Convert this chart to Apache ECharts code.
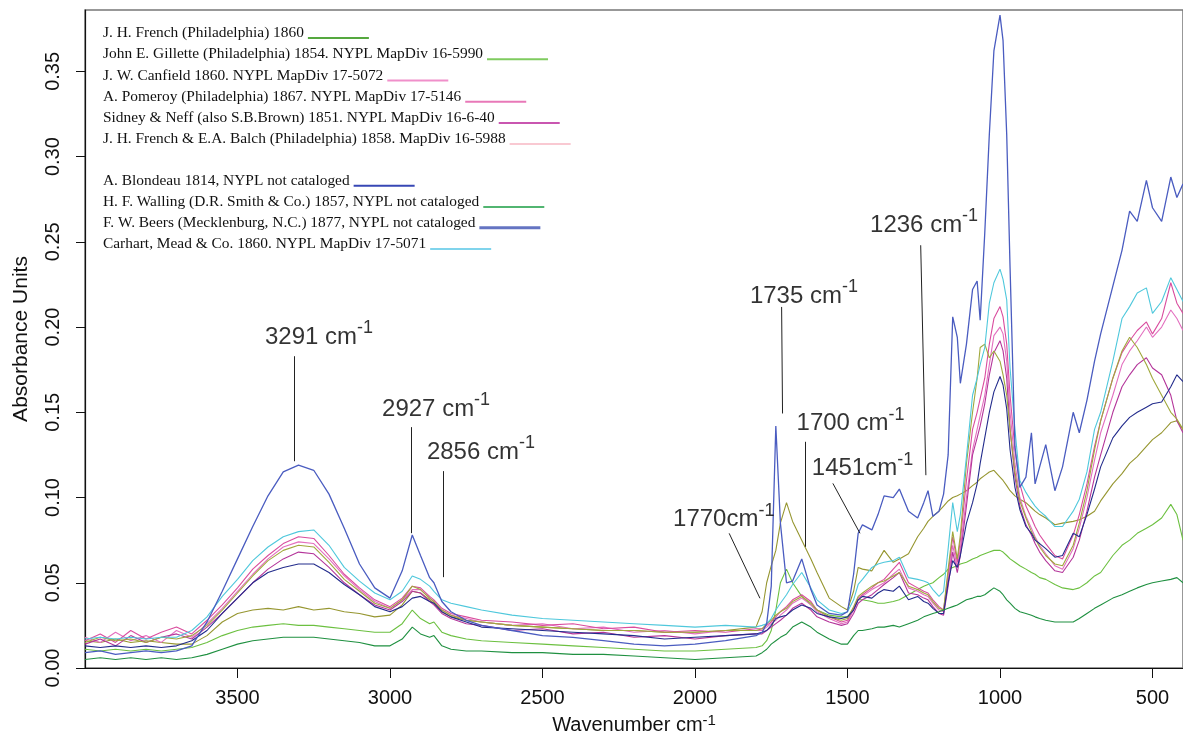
<!DOCTYPE html>
<html><head><meta charset="utf-8">
<script src="https://cdn.jsdelivr.net/npm/echarts@6/dist/echarts.min.js"></script>
<style>html,body{margin:0;padding:0;background:#fff}#c{width:1183px;height:746px}</style>
</head><body><div id="c"></div>
<script>
// ---------- DATA ----------
const WN = [
 4000,3950,3900,3850,3800,3750,3700,3650,3600,
 3550,3500,3450,3400,3350,3300,3250,3200,3150,3100,3050,3000,2960,2927,2900,2870,2856,2830,2800,
 2750,2700,2600,2500,2400,2300,2200,2100,2000,1900,1800,
 1780,1765,1750,1735,1720,1700,1680,1650,1620,1600,1560,1520,1500,
 1480,1465,1451,1420,1400,1380,1350,1330,1300,1270,1250,1236,1220,1200,1185,1170,1155,1140,1130,
 1110,1090,1075,1065,1050,1035,1020,1000,990,978,967,951,
 935,915,897,885,870,850,820,795,760,740,715,690,670,630,600,575,550,520,500,470,440,420,400
];
const french1860 = [
 .016,.015,.017,.015,.016,.015,.014,.014,.019,
 .027,.032,.034,.035,.034,.036,.034,.035,.033,.032,.030,.031,.037,.045,.044,.040,.038,.033,.030,
 .028,.027,.025,.024,.023,.022,.022,.021,.021,.022,.024,
 .033,.050,.060,.069,.085,.097,.086,.075,.064,.056,.041,.036,.034,
 .045,.059,.058,.057,.063,.069,.062,.064,.067,.077,.082,.086,.089,.092,.095,.098,.100,.101,.102,
 .104,.107,.109,.111,.113,.115,.116,.112,.110,.107,.104,.101,
 .099,.097,.094,.092,.090,.088,.084,.085,.086,.087,.089,.092,.098,.108,.114,.120,.124,.130,.134,.138,.144,.145,.140
];
const gillette = [
 .011,.010,.011,.010,.011,.010,.011,.012,.015,
 .019,.022,.024,.025,.026,.025,.025,.024,.023,.022,.021,.021,.026,.034,.029,.026,.027,.021,.019,
 .017,.016,.015,.014,.013,.012,.011,.010,.010,.011,.012,
 .013,.016,.022,.034,.050,.058,.050,.042,.037,.034,.031,.030,.030,
 .035,.040,.040,.039,.038,.038,.039,.040,.043,.046,.048,.049,.050,.053,.055,.058,.059,.060,.061,
 .062,.064,.065,.066,.067,.068,.069,.069,.068,.066,.064,.062,
 .060,.058,.056,.055,.053,.052,.049,.047,.046,.047,.050,.054,.056,.066,.072,.075,.079,.082,.084,.088,.096,.090,.075
];
const canfield = [
 .018,.015,.021,.016,.019,.015,.022,.018,.026,
 .035,.045,.055,.064,.071,.074,.073,.064,.054,.046,.039,.035,.040,.046,.046,.041,.039,.034,.031,
 .029,.027,.025,.026,.023,.024,.021,.022,.020,.022,.022,
 .022,.024,.026,.028,.031,.034,.038,.041,.037,.033,.029,.026,.027,
 .034,.040,.042,.046,.048,.050,.055,.058,.047,.045,.043,.042,.038,.034,.033,.052,.072,.059,.070,
 .100,.128,.140,.148,.160,.178,.195,.200,.196,.180,.150,.120,
 .100,.089,.082,.077,.072,.067,.060,.058,.070,.082,.100,.122,.138,.160,.178,.186,.192,.200,.194,.200,.210,.205,.198
];
const pomeroy = [
 .016,.020,.015,.022,.017,.021,.024,.020,.028,
 .037,.047,.058,.066,.073,.077,.076,.066,.055,.047,.040,.036,.041,.048,.047,.042,.040,.035,.032,
 .030,.028,.027,.025,.026,.023,.024,.021,.022,.021,.023,
 .023,.025,.027,.030,.033,.036,.040,.043,.039,.034,.030,.027,.028,
 .035,.041,.043,.047,.050,.052,.058,.062,.050,.047,.045,.044,.040,.036,.034,.055,.077,.062,.075,
 .110,.140,.150,.158,.170,.190,.205,.212,.206,.190,.160,.128,
 .108,.095,.088,.083,.078,.073,.066,.064,.078,.090,.108,.130,.145,.170,.185,.192,.198,.203,.196,.205,.226,.214,.208
];
const sidneyNeff = [
 .014,.017,.013,.019,.015,.018,.020,.017,.024,
 .032,.041,.050,.058,.064,.068,.067,.059,.050,.043,.037,.034,.039,.045,.044,.039,.037,.032,.029,
 .026,.025,.022,.023,.020,.021,.018,.019,.017,.019,.020,
 .020,.022,.024,.026,.028,.031,.035,.038,.034,.030,.027,.025,.026,
 .032,.038,.040,.043,.046,.049,.053,.056,.044,.043,.041,.040,.036,.032,.031,.048,.068,.056,.066,
 .095,.125,.135,.142,.155,.172,.185,.192,.186,.170,.140,.112,
 .095,.084,.078,.073,.068,.063,.057,.056,.065,.075,.092,.112,.125,.150,.165,.172,.178,.182,.176,.172,.160,.145,.138
];
const frenchBalch = [
 .015,.018,.016,.017,.015,.018,.017,.019,.025,
 .034,.044,.054,.063,.069,.072,.071,.062,.052,.045,.038,.035,.040,.048,.046,.041,.039,.034,.031,
 .028,.027,.025,.024,.023,.022,.022,.021,.021,.022,.022,
 .023,.026,.028,.031,.033,.035,.039,.042,.038,.034,.030,.028,.029,
 .036,.042,.044,.048,.050,.051,.054,.056,.048,.046,.044,.043,.039,.035,.034,.058,.080,.064,.078,
 .120,.150,.170,.188,.190,.182,.186,.180,.172,.160,.140,.115,
 .098,.088,.080,.076,.071,.066,.061,.060,.072,.085,.104,.128,.145,.170,.186,.194,.188,.178,.170,.160,.150,.146,.140
];
const blondeau = [
 .013,.012,.013,.012,.013,.012,.013,.016,.022,
 .032,.041,.050,.056,.059,.061,.061,.056,.049,.043,.036,.033,.036,.041,.042,.039,.038,.033,.030,
 .027,.024,.023,.022,.021,.020,.019,.017,.018,.019,.020,
 .021,.022,.025,.029,.030,.031,.034,.037,.035,.032,.030,.029,.030,
 .034,.040,.042,.041,.044,.046,.045,.048,.040,.042,.039,.038,.035,.032,.032,.050,.063,.059,.066,
 .085,.097,.108,.120,.135,.150,.162,.171,.166,.152,.128,.106,
 .093,.083,.079,.075,.073,.070,.065,.066,.079,.077,.090,.105,.118,.135,.142,.147,.150,.153,.155,.156,.165,.172,.168
];
const walling = [
 .005,.006,.005,.006,.005,.006,.005,.006,.008,
 .011,.014,.016,.017,.018,.018,.018,.017,.016,.015,.013,.013,.017,.024,.020,.018,.019,.013,.011,
 .010,.010,.009,.009,.008,.008,.007,.006,.005,.006,.007,
 .009,.011,.014,.016,.018,.020,.024,.027,.024,.021,.017,.014,.014,
 .019,.022,.022,.023,.024,.024,.025,.024,.026,.028,.030,.031,.032,.033,.034,.035,.036,.037,.038,
 .040,.041,.042,.042,.043,.045,.047,.045,.043,.040,.038,.035,
 .033,.032,.031,.030,.029,.028,.027,.027,.027,.029,.032,.035,.037,.041,.043,.045,.047,.049,.050,.051,.052,.053,.050
];
const beers = [
 .009,.010,.008,.009,.010,.009,.010,.013,.027,
 .045,.064,.083,.101,.115,.119,.116,.102,.082,.061,.047,.041,.057,.078,.066,.053,.050,.039,.033,
 .028,.025,.022,.019,.018,.016,.014,.013,.014,.016,.019,
 .021,.026,.048,.142,.085,.050,.051,.064,.046,.037,.032,.031,.033,
 .055,.079,.084,.081,.090,.101,.100,.105,.092,.088,.097,.104,.089,.092,.102,.125,.206,.194,.167,
 .190,.222,.227,.204,.255,.313,.362,.383,.368,.313,.235,.130,
 .106,.112,.138,.108,.118,.131,.104,.118,.150,.138,.157,.180,.196,.224,.245,.268,.262,.286,.270,.262,.288,.276,.284
];
const carhart = [
 .017,.018,.017,.018,.017,.018,.018,.022,.030,
 .042,.052,.063,.071,.077,.080,.081,.072,.059,.051,.044,.040,.045,.054,.052,.048,.045,.040,.038,
 .036,.034,.031,.029,.028,.027,.026,.025,.024,.025,.024,
 .025,.026,.029,.034,.038,.043,.049,.056,.047,.040,.034,.032,.033,
 .040,.049,.052,.059,.061,.062,.063,.065,.053,.052,.051,.050,.046,.042,.045,.070,.097,.080,.090,
 .124,.160,.170,.178,.188,.214,.226,.234,.228,.216,.176,.140,
 .110,.103,.098,.095,.092,.089,.083,.083,.092,.099,.115,.140,.150,.180,.205,.212,.220,.223,.208,.215,.229,.222,.215
];

const SERIES_NAMES = [
 'J. H. French (Philadelphia) 1860',
 'John E. Gillette (Philadelphia) 1854. NYPL MapDiv 16-5990',
 'J. W. Canfield 1860. NYPL MapDiv 17-5072',
 'A. Pomeroy (Philadelphia) 1867. NYPL MapDiv 17-5146',
 'Sidney & Neff (also S.B.Brown) 1851. NYPL MapDiv 16-6-40',
 'J. H. French & E.A. Balch (Philadelphia) 1858. MapDiv 16-5988',
 'A. Blondeau 1814, NYPL not cataloged',
 'H. F. Walling (D.R. Smith & Co.) 1857, NYPL not cataloged',
 'F. W. Beers (Mecklenburg, N.C.) 1877, NYPL not cataloged',
 'Carhart, Mead & Co. 1860. NYPL MapDiv 17-5071'
];
const SERIES_VALUES = [french1860, gillette, canfield, pomeroy, sidneyNeff, frenchBalch, blondeau, walling, beers, carhart];

const X_TICKS = [500, 1000, 1500, 2000, 2500, 3000, 3500];
const Y_TICKS = [0, 0.05, 0.10, 0.15, 0.20, 0.25, 0.30, 0.35];

const ANNOT_LABELS = ['3291 cm', '2927 cm', '2856 cm', '1735 cm', '1700 cm', '1451cm', '1770cm', '1236 cm'];
const ANNOT_TEXT_AT = [[3410,0.1958],[3026,0.1537],[2879,0.1285],[1820,0.2197],[1667,0.1451],[1617,0.1187],[2072,0.0888],[1426,0.2617]];
const ANNOT_LINE_FROM = [[3315,0.1829],[2931,0.1413],[2826,0.1155],[1716,0.2118],[1637,0.1327],[1548,0.1083],[1888,0.0790],[1260,0.2480]];
const ANNOT_LINE_TO = [[3315,0.1213],[2931,0.0791],[2826,0.0533],[1713,0.1493],[1637,0.0711],[1459,0.0790],[1787,0.0409],[1243,0.1131]];

// ---------- STYLE ----------
const LINE_COLORS = ['#969630','#6cc040','#e36fbf','#d94c9e','#b4359a','#a0a83c','#232c8c','#1f9040','#4a5cc0','#4fc8dc'];
const LEGEND_COLORS = ['#55a83f','#7fcb5f','#f08fca','#e878b8','#c956b0','#f9c9d2','#3747b5','#52b571','#6474c2','#80d4ec'];

SERIES_VALUES.forEach((a, i) => { if (a.length !== WN.length) throw new Error('len mismatch ' + SERIES_NAMES[i] + ' ' + a.length + ' vs ' + WN.length); });

const chart = echarts.init(document.getElementById('c'), null, {renderer: 'canvas'});
const SANS = 'Liberation Sans, Arial, sans-serif';
const SERIF = 'Liberation Serif, Times New Roman, serif';

const legendRich = {t: {fontFamily: SERIF, fontSize: 15.4, color: '#111', lineHeight: 12}, g: {width: 4, height: 2, lineHeight: 2}};
LEGEND_COLORS.forEach((c, i) => {
  legendRich['l' + i] = {width: 61, height: i === 8 ? 3 : 2, lineHeight: i === 8 ? 3 : 2, backgroundColor: c, verticalAlign: 'bottom'};
});
function legendCfg(names, top) {
  return {
    data: names.map(n => ({name: n})),
    orient: 'vertical', left: 97, top: top, padding: 0,
    itemWidth: 1, itemHeight: 12, itemGap: 1.2,
    icon: 'rect', itemStyle: {opacity: 0}, lineStyle: {opacity: 0},
    selectedMode: false,
    formatter: n => '{t|' + n + '}{g|}{l' + SERIES_NAMES.indexOf(n) + '|}',
    textStyle: {fontFamily: SERIF, fontSize: 15.4, color: '#111', rich: legendRich}
  };
}

const series = SERIES_NAMES.map((name, i) => ({
  name: name, type: 'line',
  data: WN.map((x, j) => [x, SERIES_VALUES[i][j]]),
  showSymbol: false, symbol: 'none', silent: true,
  lineStyle: {color: LINE_COLORS[i], width: i === 8 ? 1.3 : 1.1},
  itemStyle: {color: LINE_COLORS[i]},
  z: i === 8 ? 3 : 2
}));

series.push({
  name: '__annotations', type: 'scatter', silent: true, symbolSize: 0, z: 5,
  data: ANNOT_TEXT_AT.map((p, i) => ({value: p, label: {formatter: '{a|' + ANNOT_LABELS[i] + '}{s|-1}'}})),
  label: {
    show: true, position: 'right', distance: 0,
    rich: {
      a: {fontFamily: SANS, fontSize: 24, color: '#000', lineHeight: 30, verticalAlign: 'bottom'},
      s: {fontFamily: SANS, fontSize: 18, color: '#000', lineHeight: 12, verticalAlign: 'top'}
    }
  },
  markLine: {
    silent: true, symbol: ['none', 'none'], animation: false,
    lineStyle: {color: '#222', width: 1, type: 'solid'},
    label: {show: false}, emphasis: {disabled: true},
    data: ANNOT_LINE_FROM.map((p, i) => [{coord: p}, {coord: ANNOT_LINE_TO[i]}])
  }
});

chart.setOption({
  animation: false,
  backgroundColor: '#fff',
  grid: {left: 85, right: -2, top: 10, bottom: 78, show: true, borderColor: '#777', borderWidth: 1.5, backgroundColor: 'transparent'},
  legend: [legendCfg(SERIES_NAMES.slice(0, 6), 25.6), legendCfg(SERIES_NAMES.slice(6), 173.3)],
  xAxis: {
    type: 'value', inverse: true, min: 400, max: 4000,
    name: 'Wavenumber cm{s|-1}', nameLocation: 'middle', nameGap: 42,
    nameTextStyle: {fontFamily: SANS, fontSize: 20, color: '#111', lineHeight: 26,
      rich: {s: {fontFamily: SANS, fontSize: 15, color: '#111', lineHeight: 10, verticalAlign: 'top'}}},
    axisLine: {show: true, lineStyle: {color: '#111', width: 1.2}},
    axisTick: {show: true, inside: false, length: 10, customValues: X_TICKS, lineStyle: {color: '#111'}},
    axisLabel: {customValues: X_TICKS, fontFamily: SANS, fontSize: 20, color: '#111', margin: 20,
      formatter: v => String(v)},
    splitLine: {show: false}
  },
  yAxis: {
    type: 'value', min: 0, max: 0.386,
    name: 'Absorbance Units', nameLocation: 'middle', nameGap: 53,
    nameTextStyle: {fontFamily: SANS, fontSize: 21, color: '#111'},
    axisLine: {show: true, lineStyle: {color: '#111', width: 1.2}},
    axisTick: {show: true, inside: false, length: 9, customValues: Y_TICKS, lineStyle: {color: '#111'}},
    axisLabel: {customValues: Y_TICKS, rotate: 90, fontFamily: SANS, fontSize: 20, color: '#111', margin: 22,
      formatter: v => v.toFixed(2)},
    splitLine: {show: false}
  },
  series: series
});
</script>
</body></html>
